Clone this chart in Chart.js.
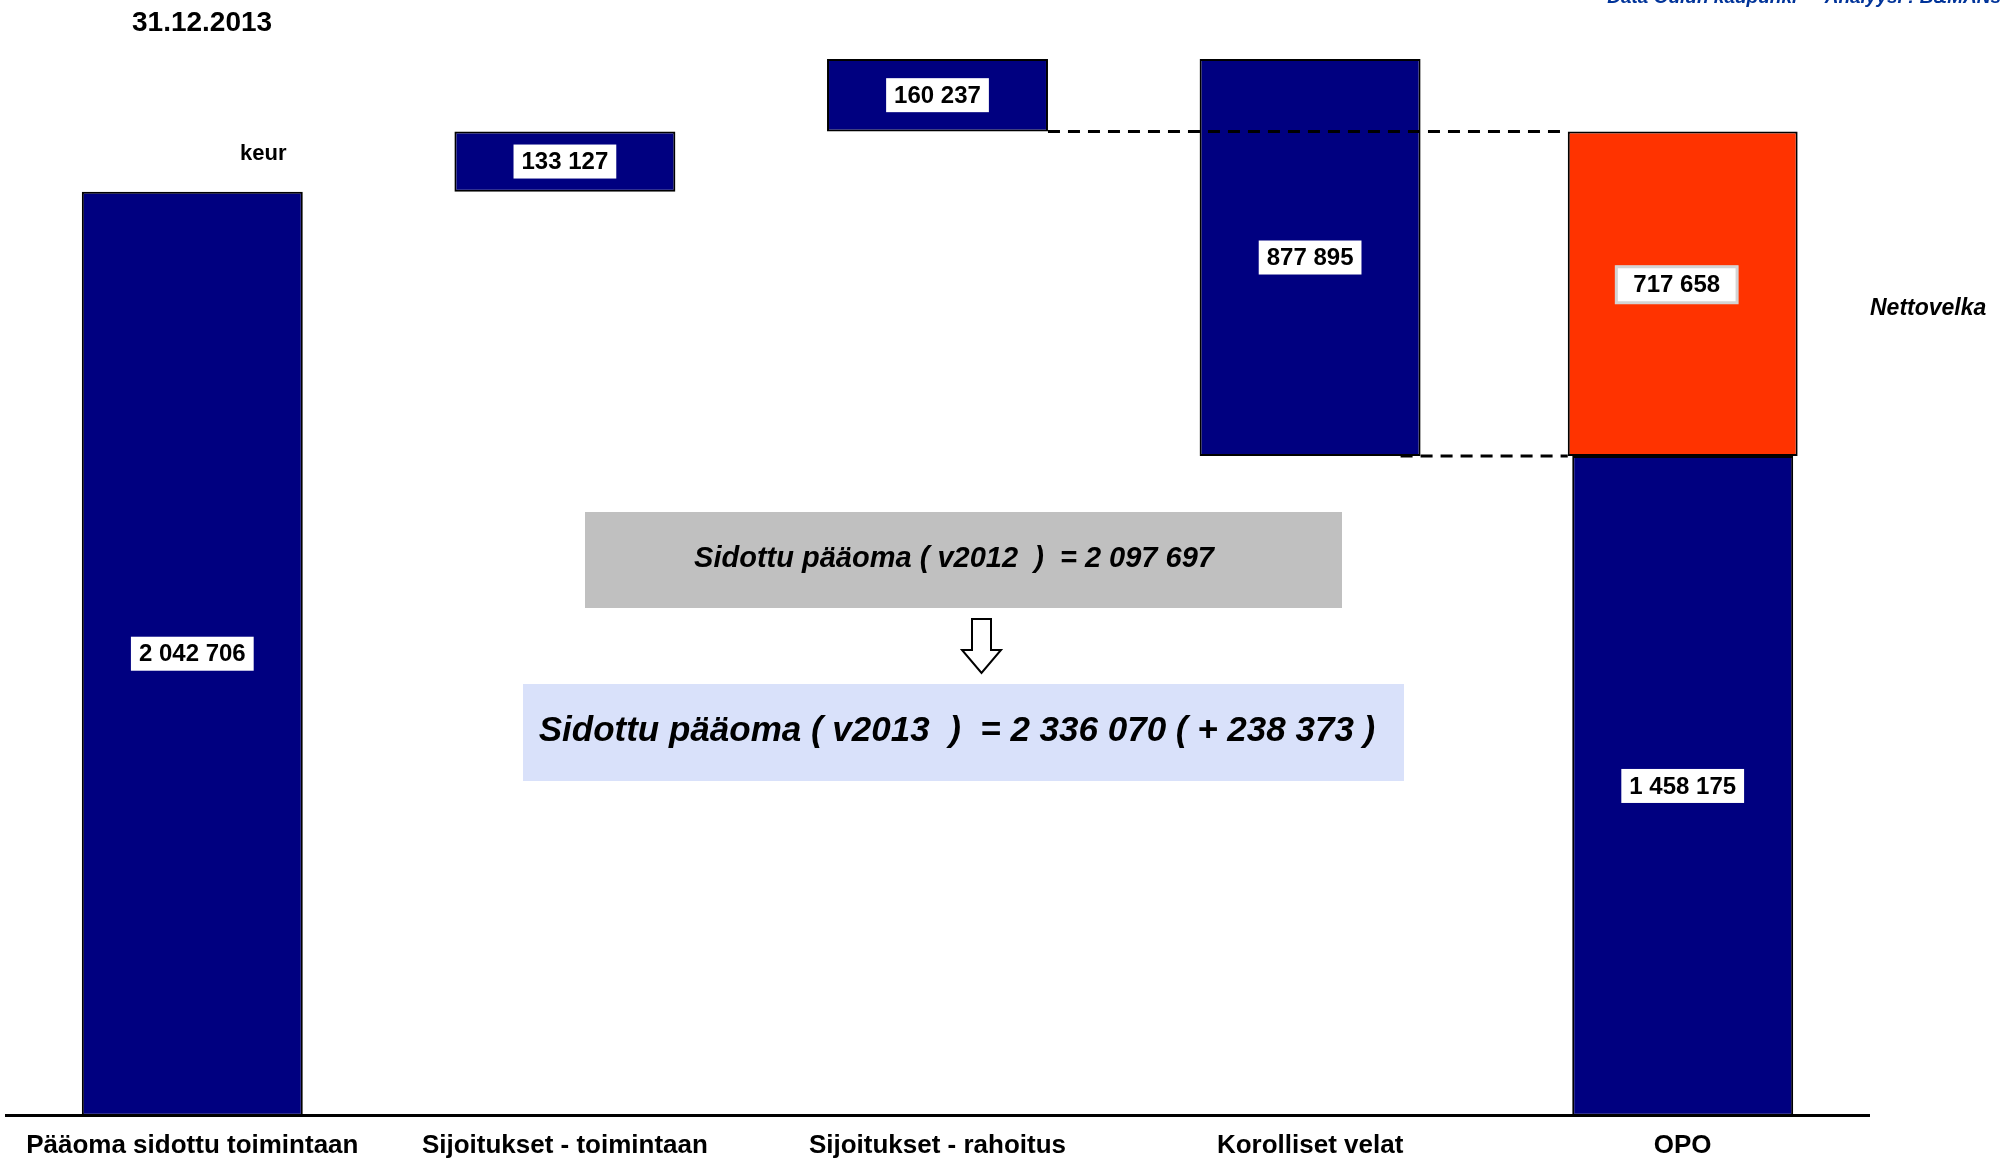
<!DOCTYPE html>
<html>
<head>
<meta charset="utf-8">
<script src="https://cdn.jsdelivr.net/npm/chart.js@4/dist/chart.umd.min.js"></script>
<style>
  html, body { margin: 0; padding: 0; background: #fff; }
  #wrap { width: 2011px; height: 1162px; }
</style>
</head>
<body>
<div id="wrap"><canvas id="grafico" width="2011" height="1162"></canvas></div>
<script>
const kategoriat = ["Pääoma sidottu toimintaan", "Sijoitukset - toimintaan", "Sijoitukset - rahoitus", "Korolliset velat", "OPO"];
// keur
const arvot = [2042706, 133127, 160237, 877895, 1458175];
const nettovelka = [null, null, null, null, 717658];

const FONTTI = "'Liberation Sans', Arial, sans-serif";

// Vesiputouksen kelluvat palkit
const sininen = [];
let taso = 0;
arvot.forEach((v, i) => {
  if (i === 0) { sininen.push([0, v]); taso = v; }
  else if (i < 3) { sininen.push([taso, taso + v]); taso += v; }
  else if (i === 3) { sininen.push([taso - v, taso]); taso -= v; }
  else sininen.push([0, v]);
});
const oranssi = nettovelka.map((v, i) => (v == null ? null : [arvot[i], arvot[i] + v]));

function muotoile(v) {
  return String(v).replace(/\B(?=(\d{3})+(?!\d))/g, " ");
}

// Arvolaatikot palkkien keskelle
const arvoLaatikot = {
  id: "arvoLaatikot",
  afterDatasetsDraw(chart) {
    const ctx = chart.ctx;
    ctx.save();
    ctx.font = "bold 24px " + FONTTI;
    ctx.textAlign = "center";
    ctx.textBaseline = "middle";
    chart.data.datasets.forEach((ds, di) => {
      chart.getDatasetMeta(di).data.forEach((bar, i) => {
        const lahde = di === 0 ? arvot : nettovelka;
        if (lahde[i] == null) return;
        const teksti = muotoile(lahde[i]);
        let x = bar.x;
        let y = (bar.y + bar.base) / 2;
        const w = ctx.measureText(teksti).width;
        if (di === 1) {
          y -= 9;
          x -= 6;
          const bw = w + 36, bh = 38;
          ctx.fillStyle = "#fff";
          ctx.fillRect(x - bw / 2, y - bh / 2, bw, bh);
          ctx.strokeStyle = "#d4d4d4";
          ctx.lineWidth = 3;
          ctx.strokeRect(x - bw / 2 + 1, y - bh / 2 + 1, bw - 2, bh - 2);
        } else {
          const bw = w + 16, bh = 34;
          ctx.fillStyle = "#fff";
          ctx.fillRect(x - bw / 2, y - bh / 2, bw, bh);
        }
        ctx.fillStyle = "#000";
        ctx.fillText(teksti, x, y + 1);
      });
    });

    // katkoviivat nettovelan ylä- ja alareunaan
    const ys = chart.scales.y;
    const pal = chart.getDatasetMeta(0).data;
    const ora = chart.getDatasetMeta(1).data[4];
    const vasen = ora.x - ora.width / 2;
    ctx.strokeStyle = "#000";
    ctx.lineWidth = 3;
    ctx.setLineDash([12, 8]);
    ctx.beginPath();
    const yYla = ys.getPixelForValue(oranssi[4][1]);
    ctx.moveTo(pal[2].x + pal[2].width / 2, yYla);
    ctx.lineTo(vasen, yYla);
    const yAla = ys.getPixelForValue(oranssi[4][0]);
    ctx.moveTo(pal[3].x + pal[3].width / 2 - 20, yAla);
    ctx.lineTo(vasen, yAla);
    ctx.stroke();
    ctx.restore();
  },
  afterDraw(chart) {
    const ctx = chart.ctx;
    ctx.save();
    ctx.textBaseline = "middle";
    ctx.fillStyle = "#000";

    ctx.font = "bold 28px " + FONTTI;
    ctx.textAlign = "left";
    ctx.fillText("31.12.2013", 132, 23);

    ctx.font = "bold 22px " + FONTTI;
    ctx.fillText("keur", 240, 154);

    ctx.font = "italic bold 23px " + FONTTI;
    ctx.fillText("Nettovelka", 1870, 309);

    ctx.fillStyle = "#003399";
    ctx.font = "italic bold 19px " + FONTTI;
    ctx.textAlign = "right";
    ctx.textBaseline = "alphabetic";
    ctx.fillText("Data Oulun kaupunki  -  Analyysi : B&MANs", 2001, 3);

    // laatikot
    ctx.fillStyle = "#C0C0C0";
    ctx.fillRect(585, 512, 757, 96);
    ctx.fillStyle = "#D9E1FA";
    ctx.fillRect(523, 684, 881, 97);

    ctx.fillStyle = "#000";
    ctx.textAlign = "center";
    ctx.textBaseline = "middle";
    ctx.font = "italic bold 29px " + FONTTI;
    ctx.fillText("Sidottu pääoma ( v2012  )  = 2 097 697", 954, 559);
    ctx.font = "italic bold 35px " + FONTTI;
    ctx.fillText("Sidottu pääoma ( v2013  )  = 2 336 070 ( + 238 373 )", 957, 731);

    // nuoli alas
    ctx.beginPath();
    ctx.moveTo(972, 619);
    ctx.lineTo(991, 619);
    ctx.lineTo(991, 650);
    ctx.lineTo(1001, 650);
    ctx.lineTo(981.5, 673);
    ctx.lineTo(962, 650);
    ctx.lineTo(972, 650);
    ctx.closePath();
    ctx.fillStyle = "#fff";
    ctx.fill();
    ctx.strokeStyle = "#000";
    ctx.lineWidth = 2;
    ctx.stroke();
    ctx.restore();
  }
};

new Chart(document.getElementById("grafico").getContext("2d"), {
  type: "bar",
  data: {
    labels: kategoriat,
    datasets: [
      {
        data: sininen,
        backgroundColor: "#000080",
        borderColor: "#000",
        borderWidth: 2,
        borderSkipped: false,
        barPercentage: 0.593,
        categoryPercentage: 1,
        grouped: false,
      },
      {
        data: oranssi,
        backgroundColor: "#FF3300",
        borderColor: "#000",
        borderWidth: 2,
        borderSkipped: false,
        barPercentage: 0.617,
        categoryPercentage: 1,
        grouped: false,
      },
    ],
  },
  options: {
    responsive: false,
    animation: false,
    devicePixelRatio: 1,
    layout: { padding: { left: 6, right: 142, top: 30, bottom: -13 } },
    scales: {
      x: {
        grid: { display: false, drawTicks: false },
        border: { display: true, color: "#000", width: 3 },
        ticks: {
          color: "#000",
          font: { family: FONTTI, size: 26, weight: "bold" },
          padding: 14,
          maxRotation: 0,
          autoSkip: false,
        },
      },
      y: { display: false, min: 0, max: 2400000 },
    },
    plugins: { legend: { display: false }, tooltip: { enabled: false } },
  },
  plugins: [arvoLaatikot],
});
</script>
</body>
</html>
